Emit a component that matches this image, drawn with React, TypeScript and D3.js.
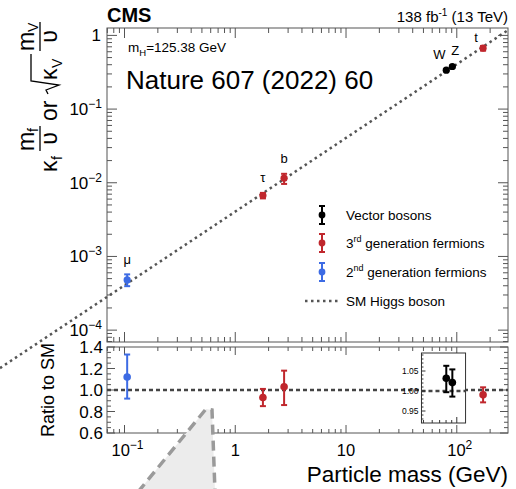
import React from "react";
import * as d3 from "d3";

// Particles shown in the coupling-vs-mass plot
const particleNames = ["μ", "τ", "b", "W", "Z", "t"];
const particleMass = [0.1057, 1.777, 2.76, 80.38, 91.19, 172.76]; // GeV
const particleGroup = ["gen2", "gen3", "gen3", "vector", "vector", "gen3"];
// Measured ratio to the SM expectation and its uncertainties
const ratioToSM = [1.12, 0.93, 1.03, 1.032, 1.021, 0.955];
const ratioErrUp = [0.21, 0.08, 0.15, 0.031, 0.033, 0.07];
const ratioErrDown = [0.2, 0.08, 0.17, 0.035, 0.035, 0.07];
const VEV = 246.22; // GeV

// Axis tick labels
const xTickValues = [0.1, 1, 10, 100];
const xTickBase = ["10", "1", "10", "10"];
const xTickExp = ["−1", "", "", "2"];
const yTickValues = [1, 0.1, 0.01, 0.001, 0.0001];
const yTickBase = ["1", "10", "10", "10", "10"];
const yTickExp = ["", "−1", "−2", "−3", "−4"];
const ratioTickValues = [0.6, 0.8, 1.0, 1.2, 1.4];
const ratioTickLabels = ["0.6", "0.8", "1.0", "1.2", "1.4"];
const insetTickValues = [0.95, 1.0, 1.05];
const insetTickLabels = ["0.95", "1.00", "1.05"];

// Legend
const legendGroups = ["vector", "gen3", "gen2"];
const legendBase = ["Vector bosons", "3", "2"];
const legendSup = ["", "rd", "nd"];
const legendRest = ["", " generation fermions", " generation fermions"];

const groupColor: Record<string, string> = {
  vector: "#000000",
  gen3: "#c0272d",
  gen2: "#3d6be4",
};

// Label placement relative to each marker (dx, dy)
const labelOffset: [number, number][] = [
  [0, -16],
  [0, -14],
  [0, -15],
  [-7, -11],
  [3, -12],
  [-7, -6],
];

const FONT = "'Liberation Sans', Arial, Helvetica, sans-serif";
const W = 516;
const H = 489;
const L = 107;
const R = 508;
const UT = 28;
const UB = 342;
const LT = 347;
const LB = 433;
const AXIS = "#555";
const SM_COLOR = "#555";

function logTicks(lo: number, hi: number) {
  const out: { v: number; major: boolean }[] = [];
  for (let k = -5; k <= 3; k++) {
    for (let m = 1; m <= 9; m++) {
      const v = m * Math.pow(10, k);
      if (v >= lo * 0.999 && v <= hi * 1.001) out.push({ v, major: m === 1 });
    }
  }
  return out;
}

function ErrorBar({
  cx,
  cy,
  y1,
  y2,
  color,
  r,
  cap,
}: {
  cx: number;
  cy: number;
  y1: number;
  y2: number;
  color: string;
  r: number;
  cap: number;
}) {
  return (
    <g>
      <line x1={cx} x2={cx} y1={y1} y2={y2} stroke={color} strokeWidth={2} />
      <line x1={cx - cap} x2={cx + cap} y1={y1} y2={y1} stroke={color} strokeWidth={2} />
      <line x1={cx - cap} x2={cx + cap} y1={y2} y2={y2} stroke={color} strokeWidth={2} />
      <circle cx={cx} cy={cy} r={r} fill={color} />
    </g>
  );
}

export default function App() {
  const x = d3.scaleLog().domain([0.0695, 290]).range([L, R]);
  const yU = d3.scaleLog().domain([6.9e-5, 1.26]).range([UB, UT]);
  const yR = d3.scaleLinear().domain([0.6, 1.4]).range([LB, LT]);
  const insetDomain = [48, 120];
  const IX0 = x(insetDomain[0]);
  const IX1 = x(insetDomain[1]);
  const yI = d3.scaleLinear().domain([0.92, 1.095]).range([423, 353]);

  const xTicks = logTicks(x.domain()[0], x.domain()[1]);
  const yTicks = logTicks(yU.domain()[0], yU.domain()[1]);
  const ratioMinor = d3.range(0.6, 1.4001, 0.05);
  const insetMinor = d3.range(0.93, 1.0901, 0.01);
  const insetXTicks = logTicks(insetDomain[0], insetDomain[1]);

  // SM expectation: coupling = m / v, drawn across the whole figure width on the left
  const smMass = [x.invert(0), x.domain()[1]];
  const smLine = d3
    .line<number>()
    .x((m) => x(m))
    .y((m) => yU(m / VEV));

  const pts = particleNames.map((name, i) => {
    const m = particleMass[i];
    const base = m / VEV;
    const val = ratioToSM[i] * base;
    return {
      name,
      m,
      group: particleGroup[i],
      val,
      hi: (ratioToSM[i] + ratioErrUp[i]) * base,
      lo: (ratioToSM[i] - ratioErrDown[i]) * base,
      r: ratioToSM[i],
      rHi: ratioToSM[i] + ratioErrUp[i],
      rLo: ratioToSM[i] - ratioErrDown[i],
      off: labelOffset[i],
    };
  });

  const legendY = [215, 243, 272, 301];

  return (
    <svg
      width={W}
      height={H}
      style={{ position: "absolute", left: 0, top: 0, background: "#fff" }}
      fontFamily={FONT}
    >
      <rect x={0} y={0} width={W} height={H} fill="#fff" />

      {/* ---------- upper panel ---------- */}
      <rect x={L} y={UT} width={R - L} height={UB - UT} fill="none" stroke={AXIS} strokeWidth={1} />
      {xTicks.map((t, i) => {
        const px = x(t.v);
        const len = t.major ? 10 : 5;
        return (
          <g key={"ux" + i} stroke={AXIS} strokeWidth={1}>
            <line x1={px} x2={px} y1={UB} y2={UB - len} />
            <line x1={px} x2={px} y1={UT} y2={UT + len} />
          </g>
        );
      })}
      {yTicks.map((t, i) => {
        const py = yU(t.v);
        const len = t.major ? 10 : 5;
        return (
          <g key={"uy" + i} stroke={AXIS} strokeWidth={1}>
            <line x1={L} x2={L + len} y1={py} y2={py} />
            <line x1={R} x2={R - len} y1={py} y2={py} />
          </g>
        );
      })}
      {yTickValues.map((v, i) => (
        <text key={"uyl" + i} x={yTickExp[i] ? 102 : 101} y={yU(v) + 6} textAnchor="end" fontSize={17}>
          {yTickBase[i]}
          {yTickExp[i] && (
            <tspan dy={-7} fontSize={12}>
              {yTickExp[i]}
            </tspan>
          )}
        </text>
      ))}

      {/* SM line, unclipped */}
      <path
        d={smLine(smMass) || ""}
        fill="none"
        stroke={SM_COLOR}
        strokeWidth={2.5}
        strokeDasharray="2.5 3.5"
      />

      {pts.map((p, i) => (
        <ErrorBar
          key={"up" + i}
          cx={x(p.m)}
          cy={yU(p.val)}
          y1={yU(p.hi)}
          y2={yU(p.lo)}
          color={groupColor[p.group]}
          r={3.6}
          cap={3}
        />
      ))}
      {pts.map((p, i) => (
        <text
          key={"lab" + i}
          x={x(p.m) + p.off[0]}
          y={yU(p.val) + p.off[1]}
          textAnchor="middle"
          fontSize={13}
        >
          {p.name}
        </text>
      ))}

      <text x={128} y={52} fontSize={13.5}>
        m
        <tspan dy={4} fontSize={9.5}>
          H
        </tspan>
        <tspan dy={-4}>=125.38 GeV</tspan>
      </text>
      <text x={126} y={89} fontSize={26}>
        Nature 607 (2022) 60
      </text>

      {/* legend */}
      {legendGroups.map((g, i) => (
        <g key={"lg" + i}>
          <ErrorBar
            cx={322}
            cy={legendY[i]}
            y1={legendY[i] - 9}
            y2={legendY[i] + 9}
            color={groupColor[g]}
            r={3.4}
            cap={3}
          />
          <text x={346} y={legendY[i] + 5} fontSize={13.5}>
            {legendBase[i]}
            {legendSup[i] && (
              <tspan dy={-6} fontSize={9}>
                {legendSup[i]}
              </tspan>
            )}
            {legendRest[i] && <tspan dy={legendSup[i] ? 6 : 0}>{legendRest[i]}</tspan>}
          </text>
        </g>
      ))}
      <line
        x1={305}
        x2={340}
        y1={legendY[3]}
        y2={legendY[3]}
        stroke={SM_COLOR}
        strokeWidth={2.5}
        strokeDasharray="2.5 3.5"
      />
      <text x={346} y={legendY[3] + 5} fontSize={13.5}>
        SM Higgs boson
      </text>

      {/* header */}
      <text x={107} y={22} fontSize={20} fontWeight="bold">
        CMS
      </text>
      <text x={508} y={22} textAnchor="end" fontSize={15}>
        138 fb
        <tspan dy={-6} fontSize={10}>
          -1
        </tspan>
        <tspan dy={6}> (13 TeV)</tspan>
      </text>

      {/* y-axis title of the upper panel */}
      <g transform="translate(57,172) rotate(-90)" fontSize={23}>
        <text x={0} y={0}>κ</text>
        <text x={12} y={5} fontSize={14}>f</text>
        <text x={21} y={-23}>m</text>
        <text x={40} y={-19} fontSize={14}>f</text>
        <line x1={21} x2={46} y1={-17} y2={-17} stroke="#000" strokeWidth={1.3} />
        <text x={33.5} y={0} textAnchor="middle">υ</text>
        <text x={51} y={0}>or</text>
        <path d="M78,-9 L82,-11 L87,2 L91,-26 L118,-26" fill="none" stroke="#000" strokeWidth={1.3} />
        <text x={92} y={0}>κ</text>
        <text x={104} y={5} fontSize={14}>V</text>
        <text x={121} y={-23}>m</text>
        <text x={140} y={-19} fontSize={14}>V</text>
        <line x1={121} x2={150} y1={-17} y2={-17} stroke="#000" strokeWidth={1.3} />
        <text x={135.5} y={0} textAnchor="middle">υ</text>
      </g>

      {/* ---------- lower (ratio) panel ---------- */}
      <rect x={L} y={LT} width={R - L} height={LB - LT} fill="none" stroke={AXIS} strokeWidth={1} />
      {xTicks.map((t, i) => {
        const px = x(t.v);
        const len = t.major ? 8 : 4;
        return (
          <g key={"lx" + i} stroke={AXIS} strokeWidth={1}>
            <line x1={px} x2={px} y1={LB} y2={LB - len} />
            <line x1={px} x2={px} y1={LT} y2={LT + len} />
          </g>
        );
      })}
      {ratioMinor.map((v, i) => {
        const py = yR(v);
        const major = Math.abs(v * 5 - Math.round(v * 5)) < 1e-6;
        const len = major ? 8 : 4;
        return (
          <g key={"ly" + i} stroke={AXIS} strokeWidth={1}>
            <line x1={L} x2={L + len} y1={py} y2={py} />
            <line x1={R} x2={R - len} y1={py} y2={py} />
          </g>
        );
      })}
      {ratioTickValues.map((v, i) => (
        <text key={"lyl" + i} x={103} y={yR(v) + 6} textAnchor="end" fontSize={17}>
          {ratioTickLabels[i]}
        </text>
      ))}
      {xTickValues.map((v, i) => (
        <text key={"lxl" + i} x={x(v) + (xTickExp[i] ? 3 : 0)} y={456} textAnchor="middle" fontSize={16.5}>
          {xTickBase[i]}
          {xTickExp[i] && (
            <tspan dy={-7} fontSize={12}>
              {xTickExp[i]}
            </tspan>
          )}
        </text>
      ))}

      <line
        x1={L}
        x2={R}
        y1={yR(1)}
        y2={yR(1)}
        stroke="#444"
        strokeWidth={2.5}
        strokeDasharray="4 3"
      />
      {pts
        .filter((p) => p.group !== "vector")
        .map((p, i) => (
          <ErrorBar
            key={"lp" + i}
            cx={x(p.m)}
            cy={yR(p.r)}
            y1={yR(p.rHi)}
            y2={yR(p.rLo)}
            color={groupColor[p.group]}
            r={3.8}
            cap={3}
          />
        ))}

      {/* inset for the vector bosons */}
      <rect x={IX0} y={353} width={IX1 - IX0} height={423 - 353} fill="#fff" stroke="#333" strokeWidth={1} />
      <line
        x1={IX0}
        x2={IX1}
        y1={yI(1)}
        y2={yI(1)}
        stroke="#444"
        strokeWidth={2.5}
        strokeDasharray="4 3"
      />
      {insetMinor.map((v, i) => {
        const major = Math.abs(v * 20 - Math.round(v * 20)) < 1e-6;
        return (
          <line
            key={"iy" + i}
            x1={IX0}
            x2={IX0 + (major ? 4 : 2)}
            y1={yI(v)}
            y2={yI(v)}
            stroke="#333"
            strokeWidth={1}
          />
        );
      })}
      {insetXTicks.map((t, i) => (
        <line
          key={"ix" + i}
          x1={x(t.v)}
          x2={x(t.v)}
          y1={423}
          y2={423 - (t.major ? 6 : 3)}
          stroke="#333"
          strokeWidth={1}
        />
      ))}
      {insetTickValues.map((v, i) => (
        <text key={"iyl" + i} x={IX0 - 3} y={yI(v) + 3} textAnchor="end" fontSize={8.5}>
          {insetTickLabels[i]}
        </text>
      ))}
      {pts
        .filter((p) => p.group === "vector")
        .map((p, i) => (
          <ErrorBar
            key={"ip" + i}
            cx={x(p.m)}
            cy={yI(p.r)}
            y1={yI(p.rHi)}
            y2={yI(p.rLo)}
            color={groupColor[p.group]}
            r={3.8}
            cap={3}
          />
        ))}

      {/* axis titles */}
      <text x={508} y={482} textAnchor="end" fontSize={22.5}>
        Particle mass (GeV)
      </text>
      <text transform="translate(54,390) rotate(-90)" textAnchor="middle" fontSize={18}>
        Ratio to SM
      </text>

      {/* pointer overlay */}
      <path
        d="M138,492 L206,409 L212,410 L215,492"
        fill="#ececec"
        stroke="#9a9a9a"
        strokeWidth={3.5}
        strokeDasharray="10 6"
      />
    </svg>
  );
}
